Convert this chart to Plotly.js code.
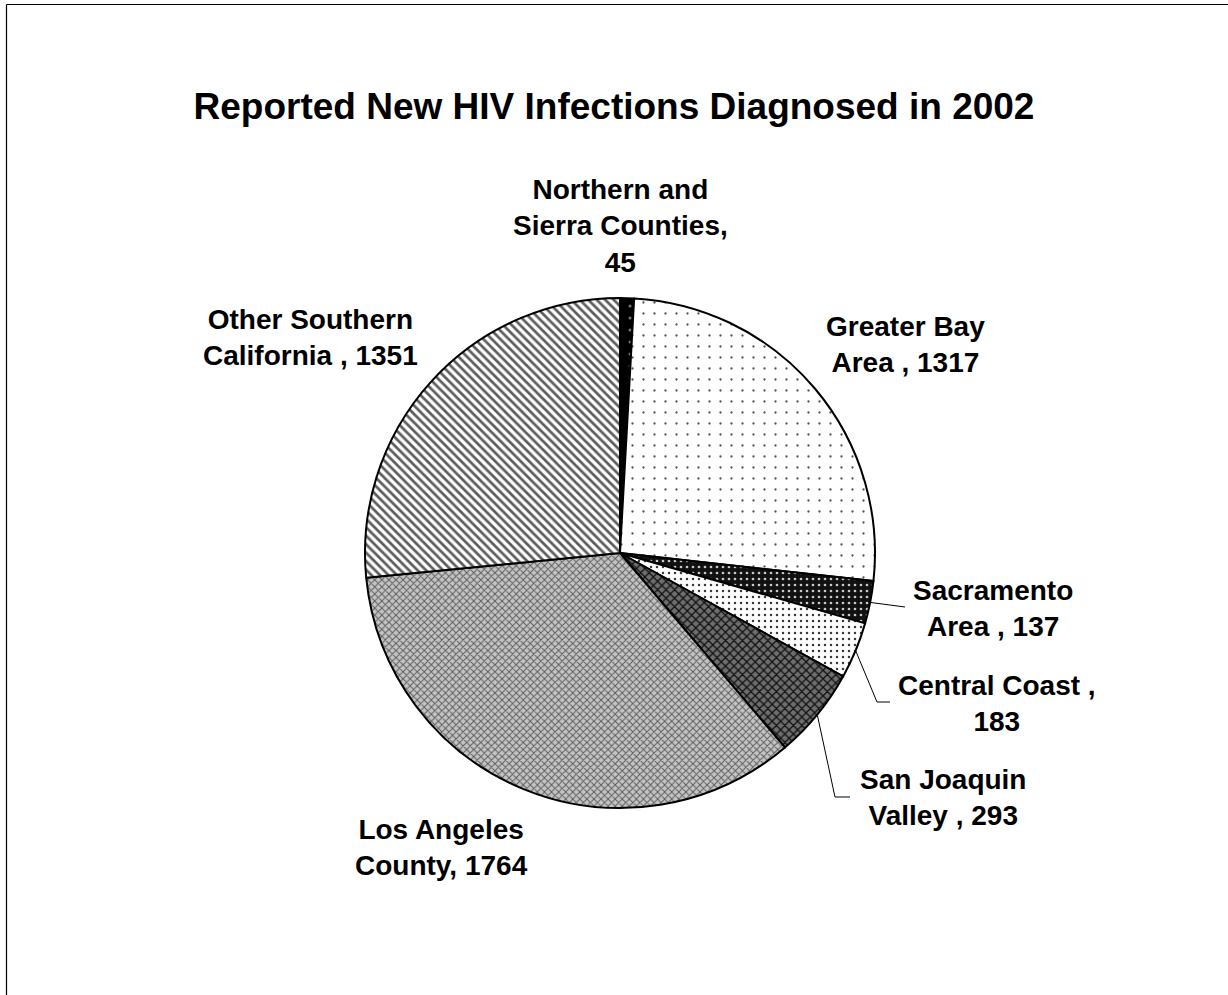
<!DOCTYPE html>
<html>
<head>
<meta charset="utf-8">
<script src="https://cdn.plot.ly/plotly-3.0.1.min.js"></script>
<style>
  html, body { margin: 0; padding: 0; background: #ffffff; }
  #chart { width: 1228px; height: 995px; }
</style>
</head>
<body>
<div id="chart"></div>
<script>
// Regions, clockwise from 12 o'clock
const regions = [
  "Northern and Sierra Counties",
  "Greater Bay Area",
  "Sacramento Area",
  "Central Coast",
  "San Joaquin Valley",
  "Los Angeles County",
  "Other Southern California"
];
// Reported new HIV infections diagnosed in 2002
const cases = [45, 1317, 137, 183, 293, 1764, 1351];
// Label wording (line breaks and separators) placed before each value
const labelHeads = [
  "Northern and<br>Sierra Counties,<br>",
  "Greater Bay<br>Area , ",
  "Sacramento<br>Area , ",
  "Central Coast ,<br>",
  "San Joaquin<br>Valley , ",
  "Los Angeles<br>County, ",
  "Other Southern<br>California , "
];

// ---- page geometry (pixels) ----
const W = 1228, H = 995;
const CX = 620, CY = 553, R = 255;
const px = x => x / W;
const py = y => 1 - y / H;

// label block centres (pixels)
const labelPos = [
  [620, 226], [905, 344], [993, 608], [997, 703], [943, 797], [441, 847], [310, 337]
];
// leader lines: label-side vertices (pixels); null = no leader
const leaderEnds = [
  null, null,
  [[905, 607]],
  [[877, 702], [890, 702]],
  [[835, 797], [850, 797]],
  null, null
];

// slice fills
const bgColors = ["#000000", "#ffffff", "#111111", "#ffffff", "#6e6e6e", "#c4c4c4", "#ffffff"];
const fgColors = ["#777777", "#555555", "#c8c8c8", "#3a3a3a", "#101010", "#5a5a5a", "#5c5c5c"];
const shapesP  = [".", ".", ".", ".", "x", "x", "\\"];
const sizesP   = [12, 11, 6, 6, 6, 5, 6];
const solidP   = [0.05, 0.035, 0.16, 0.14, 0.38, 0.35, 0.45];

const total = cases.reduce((a, b) => a + b, 0);

const trace = {
  type: "pie",
  labels: regions,
  values: cases,
  sort: false,
  direction: "clockwise",
  rotation: 0,
  textinfo: "none",
  hoverinfo: "label+value",
  showlegend: false,
  domain: { x: [px(CX - R), px(CX + R)], y: [py(CY + R), py(CY - R)] },
  marker: {
    colors: bgColors,
    line: { color: "#000000", width: 2 },
    pattern: {
      shape: shapesP,
      bgcolor: bgColors,
      fgcolor: fgColors,
      size: sizesP,
      solidity: solidP,
      fillmode: "replace"
    }
  }
};

const font = { family: "Liberation Sans, Arial, sans-serif", color: "#000000" };

const annotations = regions.map((r, i) => ({
  xref: "paper", yref: "paper",
  x: px(labelPos[i][0]), y: py(labelPos[i][1]),
  xanchor: "center", yanchor: "middle", align: "center",
  showarrow: false,
  text: "<b>" + labelHeads[i] + cases[i] + "</b>",
  font: Object.assign({ size: 28 }, font)
}));

// leader lines start on the rim at each slice's mid-angle
const shapes = [];
let cum = 0;
cases.forEach((v, i) => {
  const mid = (cum + v / 2) / total * 2 * Math.PI;
  cum += v;
  if (!leaderEnds[i]) return;
  const sx = CX + R * Math.sin(mid), sy = CY - R * Math.cos(mid);
  let path = "M " + px(sx) + " " + py(sy);
  leaderEnds[i].forEach(p => { path += " L " + px(p[0]) + " " + py(p[1]); });
  shapes.push({ type: "path", xref: "paper", yref: "paper", path: path,
                line: { color: "#000000", width: 1 } });
});

// outer frame (top and left edges)
shapes.push({ type: "line", xref: "paper", yref: "paper",
  x0: px(6.5), y0: py(4.5), x1: 1.01, y1: py(4.5), line: { color: "#000000", width: 1.2 } });
shapes.push({ type: "line", xref: "paper", yref: "paper",
  x0: px(6.5), y0: py(4.5), x1: px(6.5), y1: -0.01, line: { color: "#000000", width: 1.2 } });

const layout = {
  width: W, height: H,
  margin: { l: 0, r: 0, t: 0, b: 0 },
  paper_bgcolor: "#ffffff",
  title: {
    text: "<b>Reported New HIV Infections Diagnosed in 2002</b>",
    font: Object.assign({ size: 37 }, font),
    x: 0.5, xanchor: "center",
    y: py(106.5), yanchor: "middle", yref: "container"
  },
  annotations: annotations,
  shapes: shapes
};

Plotly.newPlot("chart", [trace], layout, { displayModeBar: false, staticPlot: true });
</script>
</body>
</html>
